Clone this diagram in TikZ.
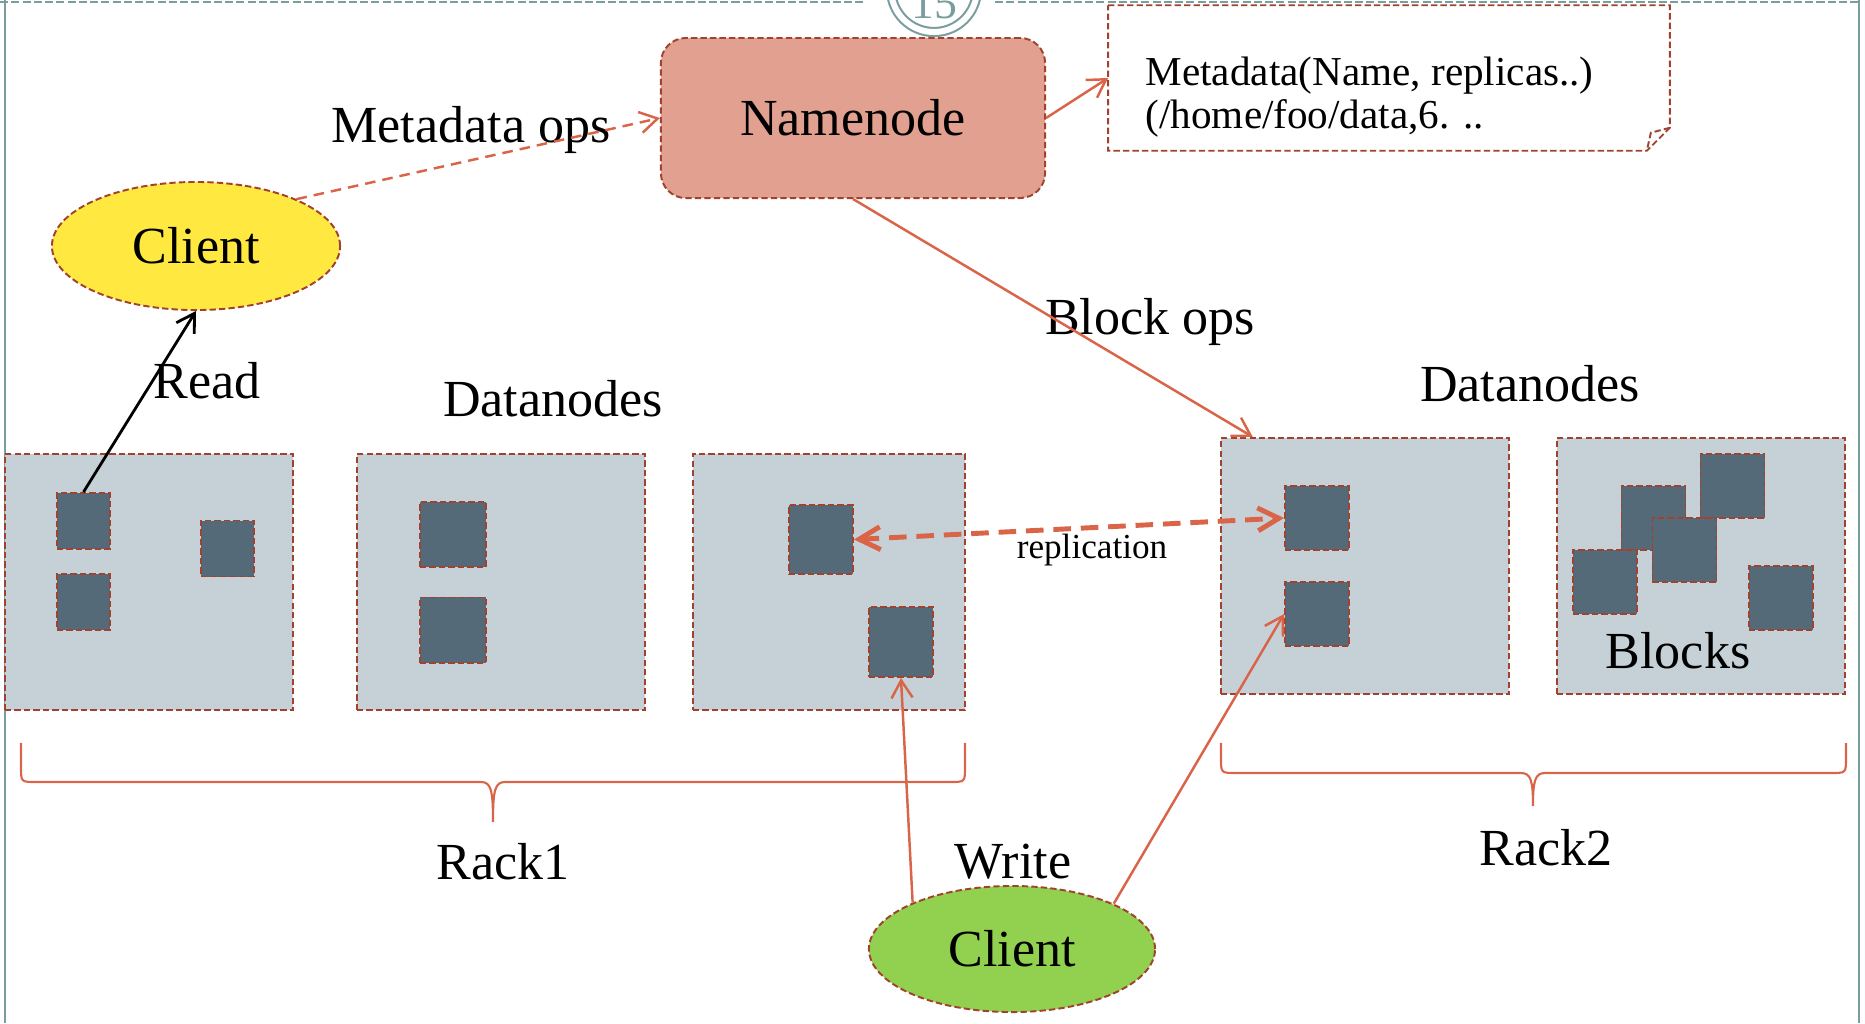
\documentclass[tikz,border=0pt]{standalone}
\usepackage{fontspec}
\setmainfont{Liberation Serif}
\usetikzlibrary{shapes.geometric,arrows.meta}
\definecolor{frm}{RGB}{122,158,158}
\definecolor{brd}{RGB}{160,66,46}
\definecolor{org}{RGB}{217,100,72}
\definecolor{nnfill}{RGB}{226,160,144}
\definecolor{ylw}{RGB}{255,232,64}
\definecolor{grn}{RGB}{146,208,80}
\definecolor{dnfill}{RGB}{198,209,215}
\definecolor{blkfill}{RGB}{84,106,121}
\begin{document}
\begin{tikzpicture}[x=0.01cm,y=-0.01cm,font=\fontsize{14.8}{17}\selectfont,
  bdr/.style={draw=brd,line width=0.55pt,dash pattern=on 1.8pt off 0.9pt},
  dnode/.style={bdr,fill=dnfill,minimum width=2.88cm,minimum height=2.56cm,inner sep=0pt},
  blk/.style={bdr,fill=blkfill,inner sep=0pt,minimum width=0.64cm,minimum height=0.64cm},
  client/.style={bdr,ellipse,minimum width=2.88cm,minimum height=1.28cm,inner sep=0pt},
  arr/.style={draw=org,line width=0.7pt,-{Straight Barb[length=5pt,width=6pt]}},
  lbl/.style={anchor=base,inner sep=0pt},
  meta/.style={lbl,anchor=base west,font=\fontsize{11.7}{14}\selectfont}]
\useasboundingbox (0,0) rectangle (1865,1023);
\draw[frm,line width=0.8pt] (5,0) -- (5,1023);
\draw[frm,line width=0.8pt] (1859,0) -- (1859,1023);
\draw[frm,line width=0.6pt,dash pattern=on 2.3pt off 0.9pt] (0,2) -- (863,2) (995,2) -- (1859,2);
\node[circle,draw=frm,line width=0.6pt,double=white,double distance=1.7pt,fill=white,minimum size=0.86cm,inner sep=0pt] (pg) at (934,-11) {};
\node[lbl,text=frm,font=\fontsize{13}{15}\selectfont] (pgnum) at (934,18) {15};
\node[bdr,fill=nnfill,rounded corners=0.25cm,minimum width=3.84cm,minimum height=1.6cm] (namenode) at (853,118) {Namenode};
\node[minimum width=5.6cm,minimum height=1.44cm,inner sep=0pt] (note) at (1389,78) {};
\draw[bdr] (note.north west) -- (note.north east) -- ([yshift=0.23cm]note.south east) -- ([xshift=-0.23cm]note.south east) -- (note.south west) -- cycle;
\draw[bdr] ([yshift=0.23cm]note.south east) -- ([xshift=-0.19cm,yshift=0.18cm]note.south east) -- ([xshift=-0.23cm]note.south east);
\node[meta] (meta1) at (1145,85) {Metadata(Name, replicas..)};
\node[meta] (meta2) at (1145,128) {(/home/foo/data,6. ..};
\node[client,fill=ylw] (clientr) at (196,246) {Client};
\node[client,fill=grn,minimum width=2.86cm,minimum height=1.26cm] (clientw) at (1012,949) {Client};
\node[dnode] (dn1) at (149,582) {};
\node[dnode] (dn2) at (501,582) {};
\node[dnode,minimum width=2.72cm] (dn3) at (829,582) {};
\node[dnode] (dn4) at (1365,566) {};
\node[dnode] (dn5) at (1701,566) {};
\node[blk,minimum width=0.53cm,minimum height=0.56cm] (b1) at (83.5,521) {};
\node[blk,minimum width=0.53cm,minimum height=0.56cm] (b2) at (83.5,602) {};
\node[blk,minimum width=0.53cm,minimum height=0.56cm] (b3) at (227.5,548.5) {};
\node[blk,minimum width=0.66cm,minimum height=0.65cm] (b4) at (453,534.5) {};
\node[blk,minimum width=0.66cm,minimum height=0.65cm] (b5) at (453,630) {};
\node[blk,minimum height=0.69cm] (b6) at (821,539.5) {};
\node[blk,minimum height=0.7cm] (b7) at (901,642) {};
\node[blk] (b8) at (1317,518) {};
\node[blk] (b9) at (1317,614) {};
\node[blk] (b10) at (1653.5,518) {};
\node[blk] (b11) at (1732.5,486) {};
\node[blk] (b12) at (1684.5,550) {};
\node[blk] (b13) at (1605,582) {};
\node[blk] (b14) at (1781,598) {};
\node[lbl] (mops) at (471,142) {Metadata ops};
\node[lbl] (bops) at (1150,334) {Block ops};
\node[lbl] (read) at (207,398) {Read};
\node[lbl] (dnl) at (553,416) {Datanodes};
\node[lbl] (dnr) at (1530,401) {Datanodes};
\node[lbl] (rack1) at (503,879) {Rack1};
\node[lbl] (rack2) at (1546,865) {Rack2};
\node[lbl] (write) at (1013,878) {Write};
\node[lbl] (blocks) at (1678,668) {Blocks};
\node[lbl,font=\fontsize{10}{12}\selectfont] (repl) at (1092,558) {replication};
\draw[arr,dash pattern=on 3pt off 2pt] (clientr.25) -- (namenode.west);
\draw[arr] (namenode.east) -- (note.west);
\draw[arr] (namenode.south) -- (dn4.131);
\draw[arr,draw=black,line width=0.8pt] (b1.north) -- (clientr.south);
\draw[arr] (clientw.155) -- (b7.south);
\draw[arr] (clientw.24) -- (b9.west);
\draw[draw=org,line width=1.4pt,dash pattern=on 5pt off 2.8pt,{Straight Barb[length=6pt,width=6.5pt]}-{Straight Barb[length=6pt,width=6.5pt]}] (b6.east) -- (b8.west);
\draw[org,line width=0.6pt] (21,743) -- (21,767) .. controls (21,782) .. (36,782) -- (481,782) .. controls (491,782) and (493,790) .. (493,822) .. controls (493,790) and (495,782) .. (505,782) -- (950,782) .. controls (965,782) .. (965,767) -- (965,743);
\draw[org,line width=0.6pt] (1221,743) -- (1221,758) .. controls (1221,773) .. (1236,773) -- (1521,773) .. controls (1531,773) and (1533,781) .. (1533,806) .. controls (1533,781) and (1535,773) .. (1545,773) -- (1831,773) .. controls (1846,773) .. (1846,758) -- (1846,743);
\end{tikzpicture}
\end{document}
